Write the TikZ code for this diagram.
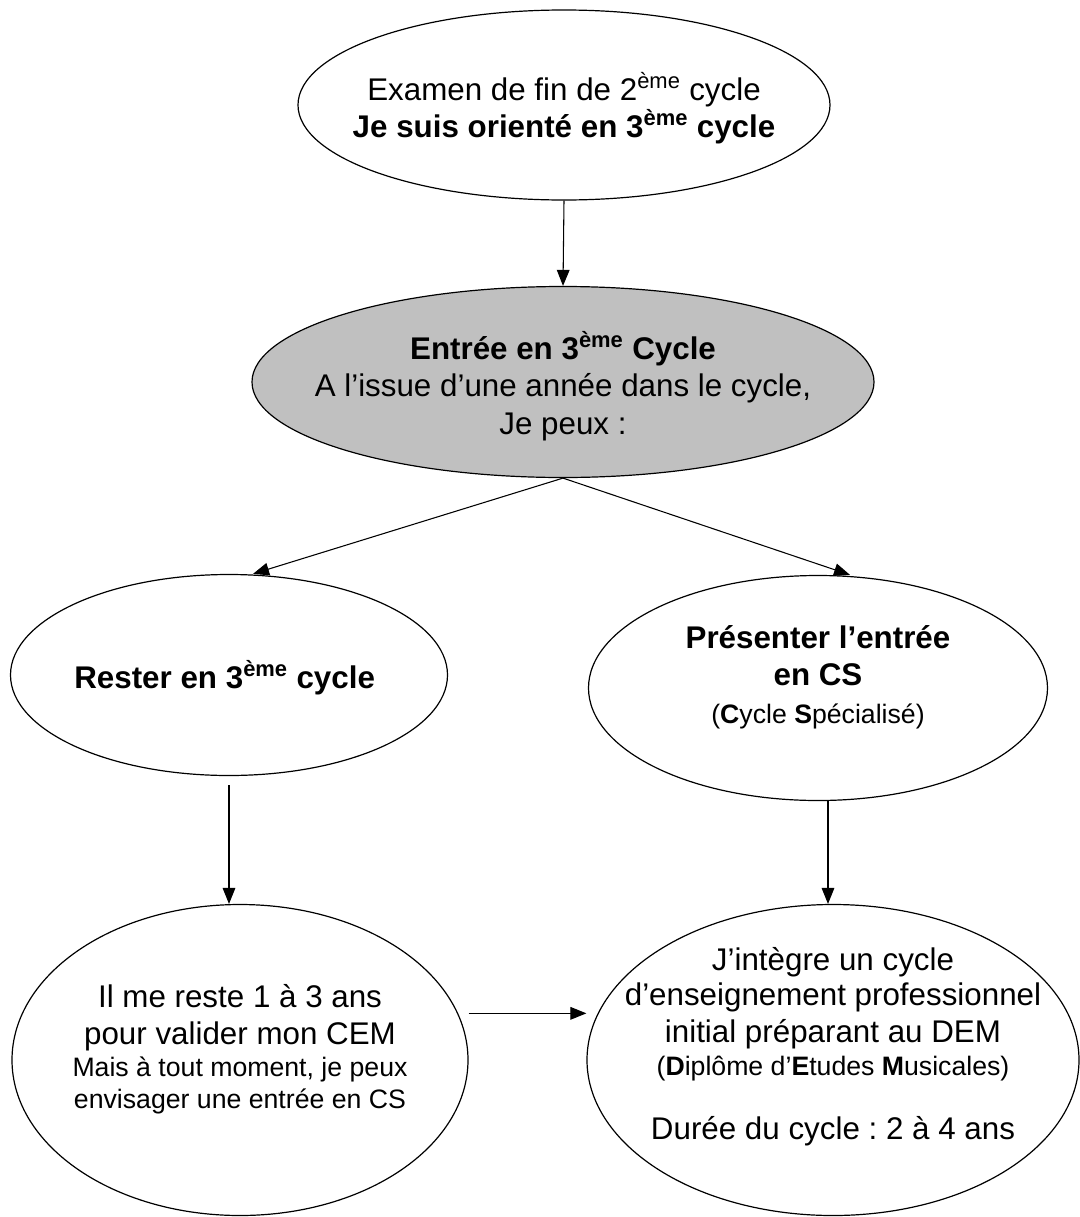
\documentclass[tikz,border=0pt]{standalone}
\usepackage{fontspec}
\setmainfont{Liberation Sans}
\usetikzlibrary{arrows.meta,shapes.geometric}
\usepackage{xcolor}
\definecolor{gris}{RGB}{192,192,192}
\newcommand{\eme}{\textsuperscript{ème}}
\newcommand{\petit}{\fontsize{20}{23.5}\selectfont}
\frenchspacing

\begin{document}
\begin{tikzpicture}[x=0.75pt, y=-0.75pt,
    bulle/.style={
        ellipse,
        draw,
        line width=0.9pt,
        inner sep=0pt
    },
    texte/.style={
        align=center,
        inner sep=0pt,
        font=\fontsize{23.5}{28}\selectfont
    },
    fleche/.style={-{Triangle[length=12pt, width=9.5pt]}, line width=0.8pt}
]
    \useasboundingbox (0, 0) rectangle (1080, 1217);

    \node (examen_ellipse) [bulle, minimum width=399pt, minimum height=142.5pt, shift={(564, 105)}] {};
    \node (examen_text) [texte, shift={(564, 108)}]
    {
        Examen de fin de 2\eme{} cycle\\
        \textbf{Je suis orienté en 3\eme{} cycle}
    };
    \node (entree_ellipse) [bulle, fill=gris, minimum width=466.5pt, minimum height=143.25pt, shift={(563, 382)}] {};
    \node (entree_text) [texte, shift={(563, 386)}]
    {
        \textbf{Entrée en 3\eme{} Cycle}\\
        A l’issue d’une année dans le cycle,\\
        Je peux :
    };
    \node (rester_ellipse) [bulle, minimum width=327.75pt, minimum height=150.75pt, shift={(229, 675)}] {};
    \node (rester_text) [texte, shift={(229, 678)}]
    {
        \textbf{Rester en 3\eme{} cycle}
    };
    \node (cs_ellipse) [bulle, minimum width=344.25pt, minimum height=168.75pt, shift={(818, 688)}] {};
    \node (cs_text) [texte, shift={(818, 677)}]
    {
        \textbf{Présenter l’entrée}\\
        \textbf{en CS}\\
        {\petit(\textbf{C}ycle \textbf{S}pécialisé)}
    };
    \node (cem_ellipse) [bulle, minimum width=342pt, minimum height=233.25pt, shift={(240, 1060)}] {};
    \node (cem_text) [texte, shift={(240, 1049)}]
    {
        Il me reste 1 à 3 ans\\
        pour valider mon CEM\\[-4pt]
        {\petit Mais à tout moment, je peux}\\[-4pt]
        {\petit envisager une entrée en CS}
    };
    \node (dem_ellipse) [bulle, minimum width=369pt, minimum height=233.25pt, shift={(833, 1060)}] {};
    \node (dem_text) [texte, shift={(833, 1047)}]
    {
        J’intègre un cycle\\[-2pt]
        d’enseignement professionnel\\
        initial préparant au DEM\\[-3pt]
        {\petit(\textbf{D}iplôme d’\textbf{E}tudes \textbf{M}usicales)}\\[20pt]
        Durée du cycle : 2 à 4 ans
    };

    \draw[fleche] (examen_ellipse.south) -- (entree_ellipse.north);
    \draw[fleche] (entree_ellipse.south) -- ([xshift=18pt]rester_ellipse.north);
    \draw[fleche] (entree_ellipse.south) -- ([xshift=24pt]cs_ellipse.north);
    \draw[fleche] ([yshift=-7pt]rester_ellipse.south) -- (rester_ellipse.south |- cem_ellipse.north);
    \draw[fleche] ([xshift=7.5pt]cs_ellipse.south) -- ([xshift=7.5pt]cs_ellipse.south |- dem_ellipse.north);
    \draw[fleche] ([yshift=35pt]cem_ellipse.east) -- ([yshift=35pt]dem_ellipse.west);
\end{tikzpicture}
\end{document}
